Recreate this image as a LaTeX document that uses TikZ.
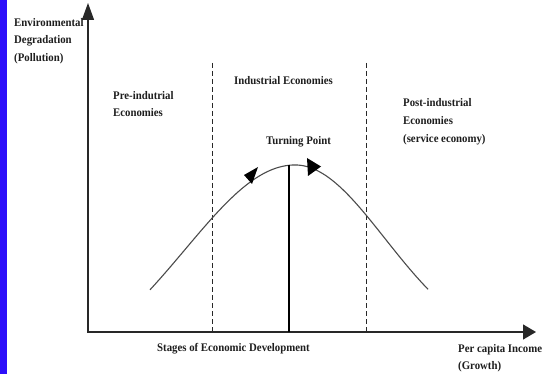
\documentclass[tikz,border=0pt]{standalone}
\usepackage{fontspec}
\setmainfont{Liberation Serif}[FakeStretch=0.93]
\usetikzlibrary{arrows.meta}
\definecolor{stripblue}{RGB}{45,15,250}
\definecolor{inkgray}{RGB}{40,40,40}
\definecolor{curvegray}{RGB}{75,75,75}
\definecolor{textgray}{RGB}{30,30,30}
\begin{document}
\begin{tikzpicture}[x=1pt,y=-1pt,
  lbl/.style={font=\fontsize{11.6}{17.5}\selectfont\bfseries, text=textgray, inner sep=0pt, align=left, anchor=north west},
  axisline/.style={line width=1.2pt, draw=inkgray},
  stagesep/.style={line width=1pt, draw=inkgray, dash pattern=on 5pt off 3pt},
  curveline/.style={line width=1.1pt, draw=curvegray},
  turnline/.style={line width=2.2pt, draw=black},
  headfill/.style={fill=black}]
\useasboundingbox (0,0) rectangle (549,374);
\fill[white] (0,0) rectangle (549,374);
\fill[stripblue] (0,0) rectangle (7,374);
% axes
\coordinate (O) at (88,332);
\coordinate (ytop) at (88,3);
\coordinate (xend) at (536,332);
\draw[axisline, {Triangle[length=17pt,width=12pt]}-{Triangle[length=13pt,width=15pt]}] (ytop) -- (O) -- (xend);
% stage separators
\coordinate (sepAtop) at (212,63);
\coordinate (sepAbot) at (212,332);
\coordinate (sepBtop) at (366,63);
\coordinate (sepBbot) at (366,332);
\draw[stagesep] (sepAtop) -- (sepAbot);
\draw[stagesep] (sepBtop) -- (sepBbot);
% curve
\draw[curveline] plot[domain=150:295, samples=60] (\x,{165+215*(1-exp(-0.5*((\x-295)/110)^2))})
  -- plot[domain=295:428, samples=60] (\x,{165+187*(1-exp(-0.5*((\x-295)/90)^2))});
% turning point
\coordinate (tp) at (289,165.3);
\coordinate (tpbase) at (289,332);
\draw[turnline] (tpbase) -- (tp);
% arrowheads on curve
\fill[headfill] (258,167) -- (244,175) -- (252,184) -- cycle;
\fill[headfill] (321,166.5) -- (307,158) -- (308,176) -- cycle;
% labels
\node[lbl] (ylab) at (14,18) {Environmental\\Degradation\\(Pollution)};
\node[lbl, font=\fontsize{11.6}{17}\selectfont\bfseries] (pre) at (113,91) {Pre-indutrial\\Economies};
\node[lbl] (ind) at (234,76) {Industrial Economies};
\node[lbl] (turn) at (266,136) {Turning Point};
\node[lbl, font=\fontsize{11.6}{18}\selectfont\bfseries] (post) at (403,98) {Post-industrial\\Economies\\(service economy)};
\node[lbl] (stages) at (157,343) {Stages of Economic Development};
\node[lbl, font=\fontsize{11.6}{17}\selectfont\bfseries] (xlab) at (458,344) {Per capita Income\\(Growth)};
\end{tikzpicture}
\end{document}
